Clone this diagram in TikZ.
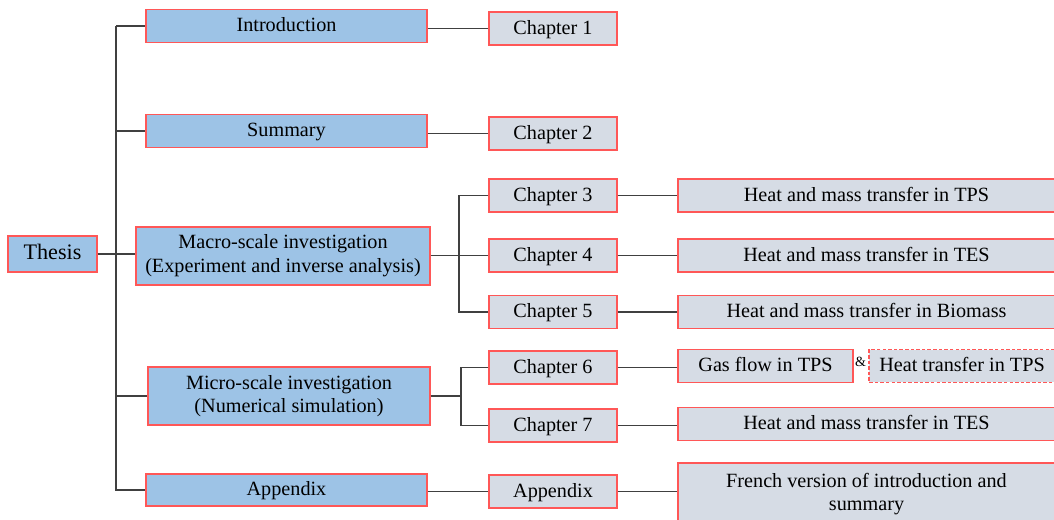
\documentclass[tikz,border=0pt]{standalone}
\usepackage{fontspec}
\setmainfont{Liberation Serif}
\usetikzlibrary{positioning, calc}

\definecolor{partblue}{HTML}{9DC3E6}
\definecolor{chapgray}{HTML}{D6DCE5}
\definecolor{edgered}{HTML}{FF5757}
\definecolor{linkgray}{HTML}{404040}

\begin{document}
\begin{tikzpicture}[
    x=0.02cm, y=-0.02cm,
    font=\fontsize{11.5}{13.5}\selectfont,
    part/.style={rectangle, draw=edgered, fill=partblue, line width=0.7pt, inner sep=0pt, minimum height=0.66cm, text height=0.66em, text depth=0pt, align=center},
    twoline/.style={text height=, text depth=},
    chap/.style={rectangle, draw=edgered, fill=chapgray, line width=0.7pt, inner sep=0pt, minimum width=2.56cm, minimum height=0.66cm, text height=0.66em, text depth=0pt, align=center},
    topic/.style={chap, minimum width=7.54cm},
    link/.style={draw=linkgray, line width=0.6pt}
]
\useasboundingbox (0,0) rectangle (1054,520);

% Root
\node[part, minimum width=1.78cm, minimum height=0.72cm, font=\fontsize{12.6}{14}\selectfont] (thesis) at (52.5,254) {Thesis};

% Parts
\node[part, minimum width=5.62cm] (intro) at (286.5,26) {Introduction};
\node[part, minimum width=5.62cm] (summ) at (286.5,131) {Summary};
\node[part, twoline, minimum width=5.88cm, minimum height=1.16cm] (macro) at (283,256) {Macro-scale investigation\\(Experiment and inverse analysis)};
\node[part, twoline, minimum width=5.64cm, minimum height=1.16cm] (micro) at (289,396) {Micro-scale investigation\\(Numerical simulation)};
\node[part, minimum width=5.62cm, minimum height=0.64cm] (appl) at (286.5,490) {Appendix};

% Chapters
\node[chap] (ch1) at (553,28.5) {Chapter 1};
\node[chap] (ch2) at (553,133.5) {Chapter 2};
\node[chap] (ch3) at (553,195.5) {Chapter 3};
\node[chap] (ch4) at (553,255.5) {Chapter 4};
\node[chap] (ch5) at (553,312) {Chapter 5};
\node[chap] (ch6) at (553,367.5) {Chapter 6};
\node[chap] (ch7) at (553,425.5) {Chapter 7};
\node[chap] (appm) at (553,491.5) {Appendix};

% Topics
\node[topic] (tps) at (866.5,195.5) {Heat and mass transfer in TPS};
\node[topic] (tes) at (866.5,255.5) {Heat and mass transfer in TES};
\node[topic] (bio) at (866.5,312) {Heat and mass transfer in Biomass};
\node[chap, minimum width=3.5cm] (gas) at (765.5,366) {Gas flow in TPS};
\node[font=\fontsize{8}{9}\selectfont, inner sep=0pt] (amp) at (860.5,362) {\&};
\node[chap, dash pattern=on 2pt off 1.2pt, minimum width=3.72cm] (heat) at (962,366) {Heat transfer in TPS};
\node[topic] (tes2) at (866.5,424) {Heat and mass transfer in TES};
\node[topic, twoline, minimum height=1.24cm] (french) at (866.5,494) {French version of introduction and\\summary};

% Connections
\coordinate (trunk) at (116,0);
\coordinate (fork) at (459,0);
\coordinate (fork2) at (461,0);
\draw[link] (intro.west -| trunk) -- (intro.west);
\draw[link] (intro.west -| trunk) -- (appl.west -| trunk) -- (appl.west);
\draw[link] (summ.west -| trunk) -- (summ.west);
\draw[link] (micro.west -| trunk) -- (micro.west);
\draw[link] (thesis.east) -- (thesis.east -| macro.west);
\draw[link] (ch1.west -| intro.east) -- (ch1.west);
\draw[link] (ch2.west -| summ.east) -- (ch2.west);
\draw[link] (ch4.west -| macro.east) -- (ch4.west);
\draw[link] (ch3.west) -- (ch3.west -| fork) -- (ch5.west -| fork) -- (ch5.west);
\draw[link] (micro.east) -- (micro.east -| fork2);
\draw[link] (ch6.west) -- (ch6.west -| fork2) -- (ch7.west -| fork2) -- (ch7.west);
\draw[link] (appm.west -| appl.east) -- (appm.west);
\draw[link] (ch3) -- (tps);
\draw[link] (ch4) -- (tes);
\draw[link] (ch5) -- (bio);
\draw[link] (ch6.east) -- (ch6.east -| gas.west);
\draw[link] (ch7.east) -- (ch7.east -| tes2.west);
\draw[link] (appm.east) -- (appm.east -| french.west);

\end{tikzpicture}
\end{document}
